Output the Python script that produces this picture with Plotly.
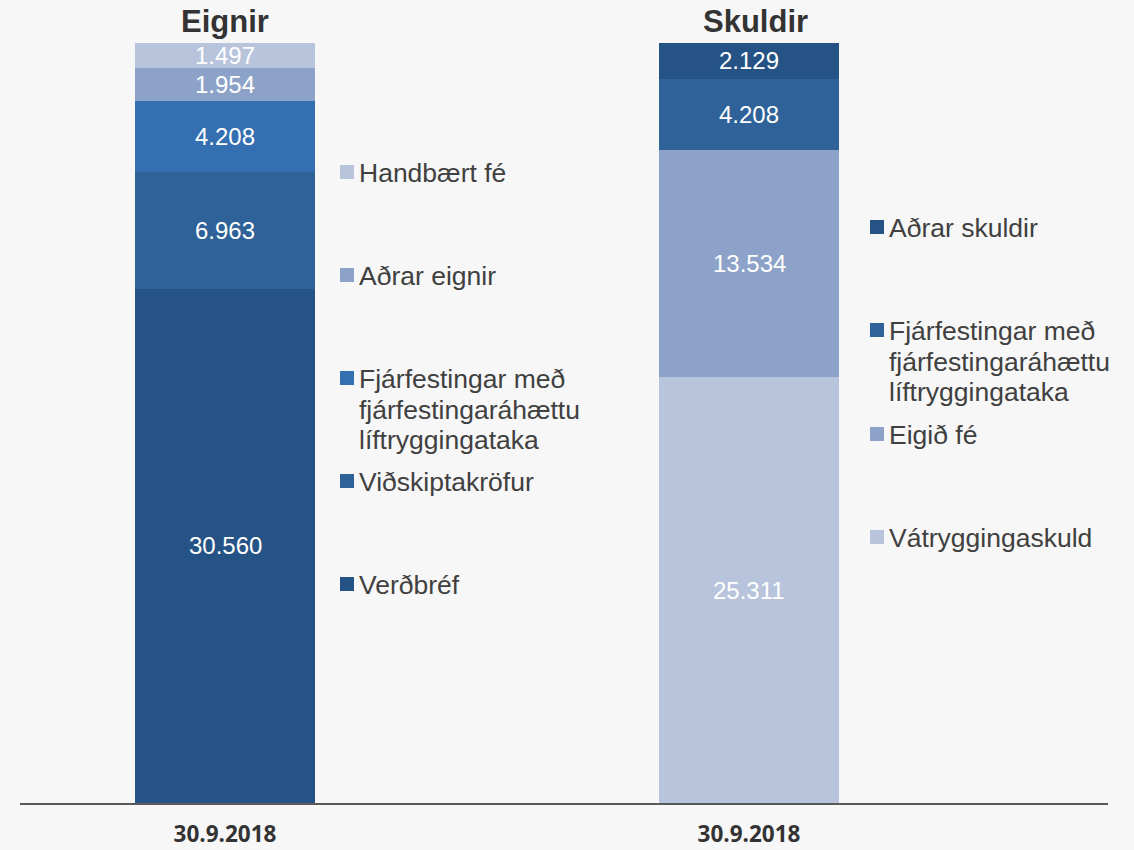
import plotly.graph_objects as go

# ---- data ----
categories = ["Eignir", "Skuldir"]
date_labels = ["30.9.2018", "30.9.2018"]

assets_names = ["Verðbréf", "Viðskiptakröfur", "Fjárfestingar með fjárfestingaráhættu líftryggingataka",
                "Aðrar eignir", "Handbært fé"]
assets_values = [30560, 6963, 4208, 1954, 1497]

liab_names = ["Vátryggingaskuld", "Eigið fé", "Fjárfestingar með fjárfestingaráhættu líftryggingataka",
              "Aðrar skuldir"]
liab_values = [25311, 13534, 4208, 2129]

# legend lines (as displayed, top to bottom)
assets_legend = [["Handbært fé"], ["Aðrar eignir"],
                 ["Fjárfestingar með", "fjárfestingaráhættu", "líftryggingataka"],
                 ["Viðskiptakröfur"], ["Verðbréf"]]
liab_legend = [["Aðrar skuldir"],
               ["Fjárfestingar með", "fjárfestingaráhættu", "líftryggingataka"],
               ["Eigið fé"], ["Vátryggingaskuld"]]

# ---- styles ----
assets_colors = ["#255385", "#2e6299", "#3470b1", "#8ca2c8", "#b7c4dc"]
liab_colors = ["#b7c4dc", "#8ca2c8", "#2e6299", "#255385"]
assets_legend_colors = ["#b7c4dc", "#8ca2c8", "#3470b1", "#2e6299", "#255385"]
liab_legend_colors = ["#255385", "#2e6299", "#8ca2c8", "#b7c4dc"]

W, H = 1134, 850
L, R, T, B = 20, 26, 43, 47
PW, PH = W - L - R, H - T - B
BG = "#f7f7f7"

def px(x):
    return (x - L) / PW

def py(y):
    return (H - B - y) / PH

def fmt(v):
    return f"{v:,}".replace(",", ".")

fig = go.Figure()
label_font = dict(family="Liberation Sans, Arial", size=24, color="white")
annotations = []

def add_stack(xpos, values, colors, names):
    base = 0
    for name, val, col in zip(names, values, colors):
        fig.add_trace(go.Bar(x=[xpos], y=[val], name=name, marker=dict(color=col, line=dict(width=0)),
                             width=0.3435, hoverinfo="skip", showlegend=False))
        annotations.append(dict(x=xpos, y=base + val / 2, xref="x", yref="y", text=fmt(val),
                                showarrow=False, xanchor="center", yanchor="middle", font=label_font))
        base += val

add_stack(0, assets_values, assets_colors, assets_names)
add_stack(1, liab_values, liab_colors, liab_names)

total = sum(assets_values)

shapes = []
# titles
for cx, t in zip([225, 755], categories):
    annotations.append(dict(x=px(cx), y=py(22), xref="paper", yref="paper", text=f"<b>{t}</b>",
                            showarrow=False, xanchor="center", yanchor="middle",
                            font=dict(family="Liberation Sans, Arial", size=31, color="#333333")))

legend_font = dict(family="Liberation Sans, Arial", size=26.5, color="#404040")

def add_legend(items, colors, ys, sq_x, tx_x):
    for lines, col, y0 in zip(items, colors, ys):
        shapes.append(dict(type="rect", xref="paper", yref="paper",
                           x0=px(sq_x), x1=px(sq_x + 14), y0=py(y0 + 7), y1=py(y0 - 7),
                           fillcolor=col, line=dict(width=0)))
        for i, ln in enumerate(lines):
            annotations.append(dict(x=px(tx_x), y=py(y0 + 1 + i * 30.5), xref="paper", yref="paper",
                                    text=ln, showarrow=False, xanchor="left", yanchor="middle",
                                    font=legend_font))

add_legend(assets_legend, assets_legend_colors, [172, 275, 378, 481, 584], 340, 357)
add_legend(liab_legend, liab_legend_colors, [227, 330, 434, 537], 870, 887)

fig.update_layout(
    width=W, height=H,
    margin=dict(l=L, r=R, t=T, b=B, autoexpand=False),
    paper_bgcolor=BG, plot_bgcolor=BG,
    barmode="stack", bargap=0,
    showlegend=False,
    annotations=annotations, shapes=shapes,
)
fig.update_xaxes(range=[-205 / 524, 1 + 359 / 524], tickvals=[0, 1], ticktext=[f"<b>{d}</b>" for d in date_labels],
                 showline=True, linecolor="#595959", linewidth=2, showgrid=False, zeroline=False,
                 ticks="", ticklabelstandoff=10, automargin=False,
                 tickfont=dict(family="Open Sans", size=22.5, color="#333333"))
fig.update_yaxes(range=[0, total], visible=False, showgrid=False, zeroline=False, automargin=False)

fig.write_html("out.html", config={"displayModeBar": False},
               post_script="document.body.style.margin='0px';document.body.style.overflow='hidden';")
